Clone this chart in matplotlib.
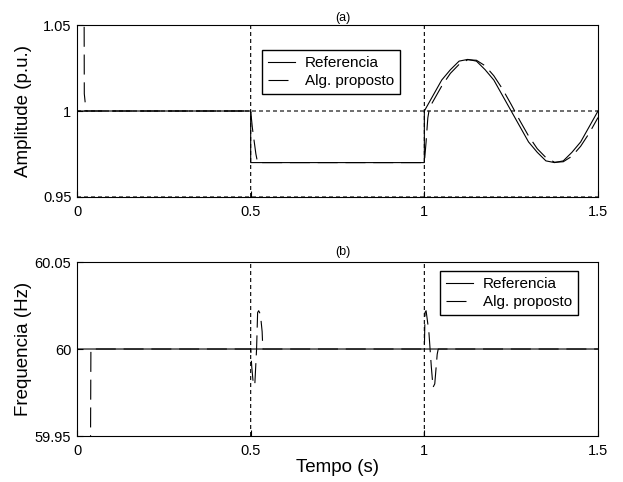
import numpy as np
import matplotlib
matplotlib.use('Agg')
import matplotlib.pyplot as plt

plt.rcParams['font.family'] = ['Liberation Sans', 'DejaVu Sans']

# (a) amplitude - referencia
ref_a_t = [0.0, 0.5, 0.5, 1.0, 1.0, 1.025, 1.05, 1.075, 1.1, 1.125, 1.15, 1.175, 1.2,
           1.225, 1.25, 1.275, 1.3, 1.325, 1.35, 1.375, 1.4, 1.425, 1.45, 1.475, 1.5]
ref_a_v = [1.0, 1.0, 0.97, 0.97, 1.0, 1.009, 1.018, 1.024, 1.029, 1.030, 1.029, 1.024, 1.018,
           1.009, 1.000, 0.991, 0.982, 0.976, 0.971, 0.970, 0.971, 0.976, 0.982, 0.991, 1.000]

# (a) amplitude - algoritmo proposto
alg_a_t = [0.019, 0.021, 0.026, 0.5, 0.505, 0.515, 0.52, 1.0, 1.005, 1.01, 1.015, 1.025,
           1.05, 1.075, 1.1, 1.125, 1.15, 1.175, 1.2, 1.225, 1.25, 1.275, 1.3, 1.325,
           1.35, 1.375, 1.4, 1.425, 1.45, 1.475, 1.5]
alg_a_v = [1.2, 1.01, 1.0, 1.0, 0.99, 0.975, 0.97, 0.97, 0.982, 0.996, 1.002, 1.0056,
           1.0145, 1.0219, 1.0271, 1.0298, 1.0295, 1.0263, 1.0205, 1.0128, 1.0038, 0.9944,
           0.9855, 0.9781, 0.9729, 0.9702, 0.9705, 0.9737, 0.9795, 0.9872, 0.9962]

# (b) frequencia
ref_b_t = [0.0, 1.5]
ref_b_v = [60.0, 60.0]
alg_b_t = [0.038, 0.04, 0.5, 0.503, 0.508, 0.512, 0.517, 0.52, 0.523, 0.528, 0.533, 0.535,
           1.0, 1.002, 1.005, 1.013, 1.02, 1.025, 1.03, 1.037, 1.04, 1.5]
alg_b_v = [59.9, 60.0, 60.0, 59.99, 59.979, 59.98, 60.0, 60.021, 60.022, 60.02, 60.01, 60.0,
           60.0, 60.021, 60.022, 60.01, 59.99, 59.978, 59.98, 59.997, 60.0, 60.0]

dash = (0, (18, 7))
dot = (0, (3.6, 2.7))
lw = 0.8

fig = plt.figure(figsize=(6.23, 4.82), dpi=100)
ax1 = fig.add_axes([0.1236, 0.5913, 0.8363, 0.3568])
ax2 = fig.add_axes([0.1236, 0.0954, 0.8363, 0.361])

leg_kw = dict(loc='upper left', fontsize=11, frameon=True, fancybox=False,
              edgecolor='k', framealpha=1, borderaxespad=0, borderpad=0.4,
              handlelength=1.77, handletextpad=0.65, labelspacing=0.25)

# grafico (a)
ax1.axhline(1.0, color='k', lw=lw, ls=dot, snap=False)
ax1.axhline(0.95, color='k', lw=lw, ls=dot, snap=False)
ax1.axvline(0.5, color='k', lw=lw, ls=dot, snap=False)
ax1.axvline(1.0, color='k', lw=lw, ls=dot, snap=False)
ax1.plot(ref_a_t, ref_a_v, color='k', lw=lw, label='Referencia', zorder=4, snap=False)
ax1.plot(alg_a_t, alg_a_v, color='k', lw=lw, ls=dash, label='Alg. proposto',
         zorder=3, snap=False)
ax1.set_xlim(0, 1.5)
ax1.set_ylim(0.95, 1.05)
ax1.set_xticks([0, 0.5, 1, 1.5])
ax1.set_xticklabels(['0', '0.5', '1', '1.5'])
ax1.set_yticks([0.95, 1, 1.05])
ax1.set_yticklabels(['0.95', '1', '1.05'])
ax1.set_ylabel('Amplitude (p.u.)', fontsize=13.5)
ax1.yaxis.set_label_coords(-0.086, 0.5)
ax1.set_title('(a)', fontsize=9, x=0.51, pad=3)
ax1.legend(bbox_to_anchor=(0.355, 0.855), **leg_kw)

# grafico (b)
ax2.axvline(0.5, color='k', lw=lw, ls=dot, snap=False)
ax2.axvline(1.0, color='k', lw=lw, ls=dot, snap=False)
ax2.plot(ref_b_t, ref_b_v, color='k', lw=lw, label='Referencia', zorder=4, snap=False)
ax2.plot(alg_b_t, alg_b_v, color='k', lw=lw, ls=dash, label='Alg. proposto',
         zorder=3, snap=False)
ax2.set_xlim(0, 1.5)
ax2.set_ylim(59.95, 60.05)
ax2.set_xticks([0, 0.5, 1, 1.5])
ax2.set_xticklabels(['0', '0.5', '1', '1.5'])
ax2.set_yticks([59.95, 60, 60.05])
ax2.set_yticklabels(['59.95', '60', '60.05'])
ax2.set_ylabel('Frequencia (Hz)', fontsize=13.5)
ax2.yaxis.set_label_coords(-0.086, 0.5)
ax2.set_xlabel('Tempo (s)', fontsize=13.5)
ax2.xaxis.set_label_coords(0.5, -0.132)
ax2.set_title('(b)', fontsize=9, x=0.51, pad=5)
ax2.legend(bbox_to_anchor=(0.697, 0.948), **leg_kw)

for ax in (ax1, ax2):
    ax.tick_params(direction='in', length=4, labelsize=10.5, color='k')
    ax.tick_params(axis='x', pad=6)
    ax.tick_params(axis='y', pad=4)
    for s in ax.spines.values():
        s.set_linewidth(0.8)
        s.set_color('k')

fig.savefig('out.png', dpi=100)
